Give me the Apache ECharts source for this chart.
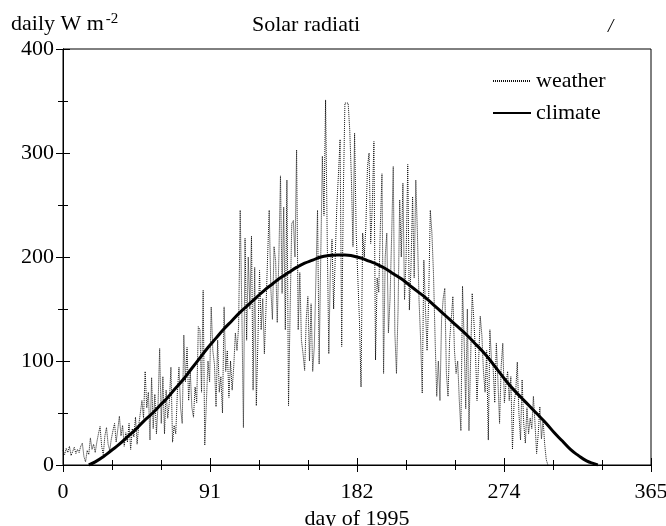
<!DOCTYPE html>
<html>
<head>
<meta charset="utf-8">
<script src="https://cdn.jsdelivr.net/npm/echarts@6/dist/echarts.min.js"></script>
<style>
  html, body { margin: 0; padding: 0; background: #fff; }
  #chart { width: 666px; height: 526px; }
</style>
</head>
<body>
<div id="chart"></div>
<script>
// daily values, day = index (0 .. 301)
var weather = [
  14, 10, 16, 12, 18, 9, 13, 17, 11, 15,
  12, 18, 21, 8, 3, 14, 10, 26, 15, 20,
  12, 22, 30, 37, 18, 10, 28, 36, 20, 14,
  25, 33, 40, 22, 34, 47, 28, 38, 18, 31,
  22, 40, 15, 35, 27, 46, 20, 38, 50, 62,
  45, 90, 55, 70, 24, 84, 35, 68, 30, 58,
  112, 40, 85, 30, 72, 45, 60, 94, 22, 38,
  30, 70, 94, 55, 40, 125, 80, 113, 62, 90,
  55, 46, 75, 60, 133, 130, 70, 168, 19, 60,
  100, 80, 152, 110, 97, 56, 120, 70, 85, 50,
  152, 90, 110, 65, 100, 72, 95, 127, 110, 133,
  245, 150, 36, 218, 120, 200, 150, 220, 72, 190,
  57, 120, 187, 130, 160, 107, 150, 200, 245, 170,
  140, 210, 196, 137, 200, 278, 165, 248, 130, 274,
  57, 150, 232, 235, 200, 303, 130, 185, 120, 107,
  91, 140, 162, 100, 155, 90, 114, 180, 245, 97,
  200, 297, 240, 351, 220, 107, 190, 217, 150, 200,
  250, 280, 313, 114, 260, 348, 349, 348, 322, 277,
  210, 319, 223, 180, 140, 75, 223, 200, 229, 287,
  300, 213, 250, 311, 101, 180, 166, 230, 280, 88,
  200, 223, 127, 159, 220, 287, 127, 88, 150, 255,
  200, 271, 159, 200, 289, 149, 190, 258, 180, 274,
  223, 159, 120, 69, 197, 150, 110, 160, 245, 223,
  183, 120, 66, 100, 62, 140, 160, 170, 88, 66,
  120, 140, 162, 110, 88, 100, 62, 33, 172, 120,
  54, 150, 33, 100, 165, 140, 110, 62, 100, 143,
  125, 90, 70, 110, 24, 130, 100, 94, 60, 117,
  80, 40, 95, 117, 60, 78, 90, 62, 85, 15,
  60, 70, 99, 50, 24, 82, 40, 21, 55, 30,
  45, 35, 66, 40, 11, 30, 56, 25, 44, 20, 5, 0
];

var climateDays = [16, 20, 25, 30, 35, 40, 45, 50, 55, 60, 65, 70, 75, 80, 85, 90, 95, 100,
  105, 110, 115, 120, 125, 130, 135, 140, 145, 150, 155, 160, 165, 170, 175, 180, 185, 190,
  195, 200, 205, 210, 215, 220, 225, 230, 235, 240, 245, 250, 255, 260, 265, 270, 275, 280,
  285, 290, 295, 300, 305, 310, 315, 320, 325, 330, 332];
var climateValues = [0, 3, 8, 14, 20, 27, 34, 42, 49, 57, 65, 74, 83, 93, 103, 113, 122, 131,
  139, 147, 154, 161, 168, 174, 180, 185, 190, 194, 197, 200, 201.5, 202, 202, 201, 199, 196,
  193, 189, 184, 179, 173, 167, 161, 154, 147, 140, 133, 126, 118, 110, 101, 91, 81, 72,
  64, 56, 48, 40, 31, 23, 15, 9, 4, 1, 0];

var xTickLabels = ['0', '91', '182', '274', '365'];

var weatherData = weather.map(function (v, i) { return [i, v]; });
var climateData = climateDays.map(function (d, i) { return [d, climateValues[i]]; });

var font = '"Liberation Serif", "DejaVu Serif", serif';
var black = '#000';
var fs = 22;

// one frame edge: ticks inside, no grid lines
function edge(opts) {
  var a = {
    type: 'value',
    axisLine: { show: opts.line, lineStyle: { color: black, width: 1 } },
    axisTick: { show: true, inside: true, length: opts.len, lineStyle: { color: black } },
    splitLine: { show: false },
    axisLabel: { show: false }
  };
  for (var k in opts) if (k !== 'line' && k !== 'len') a[k] = opts[k];
  return a;
}

var X_MAJOR = 365 / 4, X_MINOR = 365 / 12;

var chart = echarts.init(document.getElementById('chart'));
chart.setOption({
  animation: false,
  backgroundColor: '#fff',
  title: [{
    text: 'Solar radiati',
    left: 247,
    top: 9,
    textStyle: { fontFamily: font, fontSize: fs, fontWeight: 'normal', color: black }
  }, {
    text: 'daily W m{sup|-2}',
    left: 6,
    top: 7,
    textStyle: {
      fontFamily: font, fontSize: fs, fontWeight: 'normal', color: black,
      rich: { sup: { fontFamily: font, fontSize: 15, color: black, verticalAlign: 'top', padding: [0, 0, 10, 2] } }
    }
  }, {
    text: '/',
    left: 603,
    top: 12,
    textStyle: { fontFamily: font, fontSize: 19, fontStyle: 'italic', fontWeight: 'normal', color: black }
  }],
  legend: {
    orient: 'vertical',
    left: 487,
    top: 65,
    itemWidth: 38,
    itemHeight: 12,
    itemGap: 10,
    itemStyle: { opacity: 0 },
    textStyle: { fontFamily: font, fontSize: fs, color: black },
    data: ['weather', 'climate']
  },
  grid: {
    left: 63,
    right: 15,
    top: 49,
    bottom: 61,
    outerBoundsMode: 'none',
    show: true,
    borderColor: black,
    borderWidth: 1
  },
  xAxis: [
    edge({
      line: true, len: 7, position: 'bottom', min: 0, max: 365, interval: X_MAJOR,
      name: 'day of 1995',
      nameLocation: 'middle',
      nameGap: 38,
      nameTextStyle: { fontFamily: font, fontSize: fs, color: black },
      axisLabel: {
        show: true,
        margin: 16,
        fontFamily: font,
        fontSize: fs,
        color: black,
        formatter: function (v) { return xTickLabels[Math.round(v / X_MAJOR)]; }
      }
    }),
    edge({ line: true, len: 7, position: 'top', min: 0, max: 365, interval: X_MAJOR }),
    edge({ line: false, len: 5, position: 'bottom', min: 0, max: 365, interval: X_MINOR }),
    edge({ line: false, len: 5, position: 'top', min: 0, max: 365, interval: X_MINOR })
  ],
  yAxis: [
    edge({
      line: true, len: 7, position: 'left', min: 0, max: 400, interval: 100,
      axisLabel: { show: true, margin: 9, fontFamily: font, fontSize: fs, color: black }
    }),
    edge({ line: true, len: 7, position: 'right', min: 0, max: 400, interval: 100 }),
    edge({ line: false, len: 5, position: 'left', min: 0, max: 400, interval: 50 }),
    edge({ line: false, len: 5, position: 'right', min: 0, max: 400, interval: 50 })
  ],
  series: [{
    name: 'weather',
    type: 'line',
    data: weatherData,
    symbol: 'none',
    color: '#111',
    lineStyle: { color: '#111', width: 1, type: [1, 1] },
    z: 2
  }, {
    name: 'climate',
    type: 'line',
    data: climateData,
    symbol: 'none',
    smooth: true,
    color: black,
    lineStyle: { color: black, width: 3 },
    z: 3
  }]
});
</script>
</body>
</html>
